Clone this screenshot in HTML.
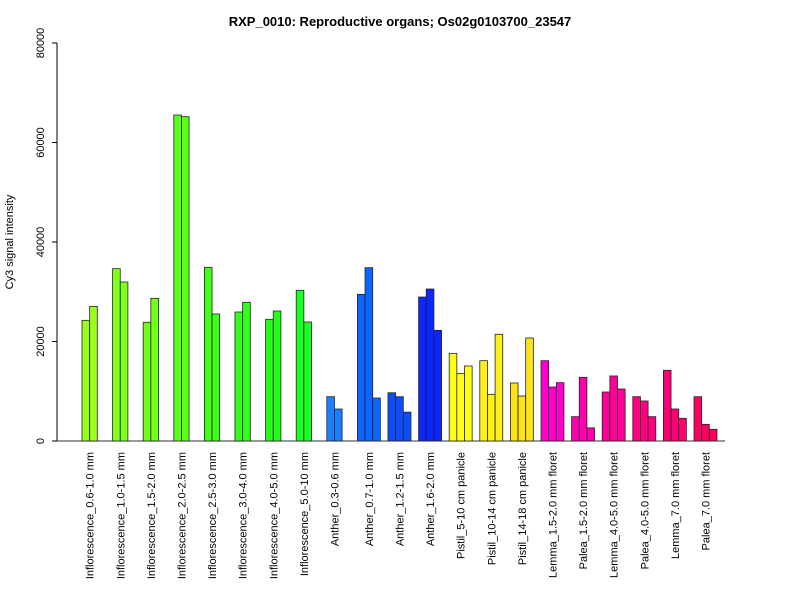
<!DOCTYPE html>
<html><head><meta charset="utf-8"><style>
body{margin:0;background:#fff}
svg{font-family:"Liberation Sans",Arial,sans-serif}
</style></head><body>
<svg id="chart" width="800" height="600" xmlns="http://www.w3.org/2000/svg">
<rect width="800" height="600" fill="#fff"/>
<text x="400" y="26" text-anchor="middle" font-size="13" font-weight="bold">RXP_0010: Reproductive organs; Os02g0103700_23547</text>
<text transform="translate(13,242) rotate(-90)" text-anchor="middle" font-size="11">Cy3 signal intensity</text>
<g id="yaxis"></g>
<g id="bars"></g>
<g id="xlabels"></g>
</svg>
<script>
const categories = ["Inflorescence_0.6-1.0 mm","Inflorescence_1.0-1.5 mm","Inflorescence_1.5-2.0 mm","Inflorescence_2.0-2.5 mm","Inflorescence_2.5-3.0 mm","Inflorescence_3.0-4.0 mm","Inflorescence_4.0-5.0 mm","Inflorescence_5.0-10 mm","Anther_0.3-0.6 mm","Anther_0.7-1.0 mm","Anther_1.2-1.5 mm","Anther_1.6-2.0 mm","Pistil_5-10 cm panicle","Pistil_10-14 cm panicle","Pistil_14-18 cm panicle","Lemma_1.5-2.0 mm floret","Palea_1.5-2.0 mm floret","Lemma_4.0-5.0 mm floret","Palea_4.0-5.0 mm floret","Lemma_7.0 mm floret","Palea_7.0 mm floret"];
const values = [[24260,27070],[34640,31960],[23860,28680],[65530,65190],[34910,25530],[25930,27880],[24460,26130],[30290,23920],[8910,6430],[29480,34840,8640],[9700,8900,5800],[28940,30550,22250],[17620,13600,15080],[16140,9380,21450],[11660,9050,20700],[16140,10850,11720],[4890,12800,2650],[9850,13070,10450],[8910,8040,4890],[14210,6430,4560],[8910,3350,2350]];
const colors = ["#99ff1a","#80ff1a","#73ff1a","#59ff1a","#40ff1a","#33ff1a","#26ff1a","#1aff26","#1a80ff","#0d66ff","#0d4dff","#0d26ff","#ffff1a","#fff01a","#ffe31a","#ff00cc","#ff00b0","#ff0099","#ff0080","#ff0073","#ff0060"];
const yTicks = [0,20000,40000,60000,80000];
const NS="http://www.w3.org/2000/svg";
const y0=441, yTop=43, yMax=80000;
const yScale=v=>y0-(v/yMax)*(y0-yTop);
const slotStart=i=>82+i*30.6;
const barW=7.65;
function mk(t,a,p){const e=document.createElementNS(NS,t);for(const k in a)e.setAttribute(k,a[k]);p.appendChild(e);return e;}
const ya=document.getElementById('yaxis');
const ax=mk('line',{x1:57,x2:57,y1:yScale(0),y2:yScale(80000),stroke:'#000'},ya);


yTicks.forEach(t=>{
  const l=mk('line',{x1:52,x2:57,y1:yScale(t),y2:yScale(t),stroke:'#000'},ya);
  
  
  const tx=mk('text',{transform:`translate(44,${yScale(t)}) rotate(-90)`,'text-anchor':'middle','font-size':'11'},ya);
  
  
  tx.textContent=t;
});
const bl=mk('line',{x1:57,x2:725,y1:y0,y2:y0,stroke:'#333'},ya);


const bg=document.getElementById('bars'), xl=document.getElementById('xlabels');
values.forEach((g,i)=>{
  g.forEach((v,j)=>{
    const r=mk('rect',{x:slotStart(i)+j*barW,y:yScale(v),width:barW,height:y0-yScale(v),fill:colors[i],stroke:'#222','stroke-width':'0.8'},bg);
    
    
  });
  const cx=slotStart(i)+g.length*barW/2+4;
  const t=mk('text',{transform:`translate(${cx},452) rotate(-90)`,'text-anchor':'end','font-size':'11'},xl);
  
  
  t.textContent=categories[i];
});
</script>
</body></html>
